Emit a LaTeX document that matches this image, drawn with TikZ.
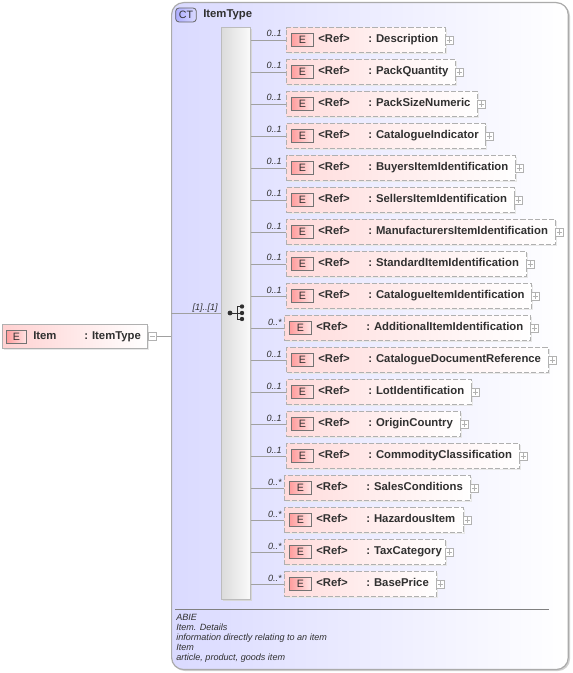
\documentclass[tikz,border=0pt]{standalone}
\usepackage{fontspec}
\setmainfont{Liberation Sans}
\definecolor{ctborder}{HTML}{ABABAB}
\definecolor{ctlav}{HTML}{DADAFF}
\definecolor{ink}{HTML}{303030}
\definecolor{linec}{HTML}{A0A0A0}
\definecolor{dashc}{HTML}{B0B0B0}
\tikzset{
  x=0.75pt,y=-0.75pt,
  ctbox/.style={draw=ctborder,line width=0.9pt,rounded corners=9pt,left color=ctlav,right color=white},
  seqbox/.style={draw=ctborder!80!white,line width=0.7pt,left color=black!14,right color=black!2},
  refbox/.style={draw=dashc,line width=0.8pt,dash pattern=on 3.8pt off 1.6pt,left color=red!14!white,right color=white,inner sep=0pt,anchor=north west},
  itembox/.style={draw=dashc,line width=0.7pt,left color=red!18!white,right color=white,inner sep=0pt,anchor=north west},
  eicon/.style={draw=black!55,line width=0.6pt,left color=red!38!white,right color=red!10!white,inner sep=0pt,font=\fontsize{8}{8}\selectfont,text=ink,minimum width=16pt,minimum height=9.75pt},
  lbl/.style={font=\bfseries\fontsize{8.5}{9}\selectfont,text=ink,inner sep=0pt,anchor=base west},
  card/.style={font=\itshape\fontsize{6.8}{8}\selectfont,text=ink,inner sep=0pt,anchor=base east},
  doc/.style={font=\itshape\fontsize{6.8}{8}\selectfont,text=ink,inner sep=0pt,anchor=base west},
  conn/.style={draw=linec,line width=0.6pt},
  pm/.style={draw=black!30,fill=white,line width=0.5pt,minimum width=6pt,minimum height=6pt,inner sep=0pt},
}
\begin{document}
\begin{tikzpicture}
\useasboundingbox (0,0) rectangle (572,673);
% complex type container
\fill[black!18,rounded corners=9pt] (173,4) rectangle (570,671);
\node[ctbox,inner sep=0pt,minimum width=297.5pt,minimum height=500.2pt,anchor=north west] (ct) at (171,2) {};
\node[draw=black!60,line width=0.6pt,rounded corners=2.5pt,left color=blue!32!white,right color=ctlav,inner sep=0pt,minimum width=15.5pt,minimum height=10.5pt,font=\fontsize{8}{8}\selectfont,text=ink] (cticon) at (186,15) {CT};
\node[lbl] (cttitle) at (203,17.5) {ItemType};
% sequence
\fill[black!16] (223,29) rectangle (252,601);
\node[seqbox,inner sep=0pt,minimum width=21.5pt,minimum height=429pt,anchor=north west] (seq) at (221,27) {};
\fill[ink] (230,313) circle[radius=2.4] (242,306.5) circle[radius=2.2] (242,313) circle[radius=2.2] (242,319) circle[radius=2.2];
\draw[ink,line width=0.7pt] (230,313) -- (237,313) (237,306.5) -- (237,319) (237,306.5) -- (242,306.5) (237,313) -- (242,313) (237,319) -- (242,319);
% rows
\foreach \n/\lft/\rgt/\cardi/\nm [count=\i from 0] in {
 a/286/445/0..1/Description,
 b/286/455/0..1/PackQuantity,
 c/286/477/0..1/PackSizeNumeric,
 d/286/485/0..1/CatalogueIndicator,
 e/286/515/0..1/BuyersItemIdentification,
 f/286/514/0..1/SellersItemIdentification,
 g/286/555/0..1/ManufacturersItemIdentification,
 h/286/526/0..1/StandardItemIdentification,
 i/286/531/0..1/CatalogueItemIdentification,
 j/284/530/0..*/AdditionalItemIdentification,
 k/286/548/0..1/CatalogueDocumentReference,
 l/286/471/0..1/LotIdentification,
 m/286/460/0..1/OriginCountry,
 n/286/519/0..1/CommodityClassification,
 o/284/470/0..*/SalesConditions,
 p/284/463/0..*/HazardousItem,
 q/284/445/0..*/TaxCategory,
 r/284/436/0..*/BasePrice}{
  \pgfmathsetmacro\ytop{27+32*\i}
  \pgfmathsetmacro\wpt{(\rgt-\lft)*0.75}
  \fill[black!9] (\lft+2,\ytop+2) rectangle (\rgt+2,\ytop+27);
  \node[refbox,minimum width=\wpt pt,minimum height=18.75pt] (ref\n) at (\lft,\ytop) {};
  \node[eicon] (eic\n) at (\lft+16.5,\ytop+13) {E};
  \node[lbl] (ra\n) at (\lft+32,\ytop+15.5) {<Ref>};
  \node[lbl] (rb\n) at (\lft+82,\ytop+15.5) {:\hspace{3pt}\nm};
  \node[card] (ca\n) at (282,\ytop+10) {\cardi};
  \node[pm] (pm\n) at (\rgt+4.5,\ytop+13) {};
  \draw[black!30,line width=0.5pt] ([xshift=-2.1pt]pm\n.center) -- ([xshift=2.1pt]pm\n.center) ([yshift=-2.1pt]pm\n.center) -- ([yshift=2.1pt]pm\n.center);
  \draw[conn] (seq.east |- pm\n) -- (ref\n.west |- pm\n);
}
% item element
\fill[black!9] (4,326) rectangle (149,350);
\node[itembox,minimum width=108.75pt,minimum height=18pt] (item) at (2,324) {};
\node[eicon,minimum width=15pt,minimum height=9.75pt] (eitem) at (16.5,336.5) {E};
\node[lbl] (itemname) at (33,339) {Item};
\node[lbl] (itemtype) at (84,339) {:\hspace{3pt}ItemType};
\node[pm] (pmitem) at (152.5,336.5) {};
\draw[black!30,line width=0.5pt] ([xshift=-2.1pt]pmitem.center) -- ([xshift=2.1pt]pmitem.center);
\draw[conn] (pmitem.east) -- (ct.west |- pmitem);
\draw[conn] (ct.west |- 0,313) -- (seq.west |- 0,313);
\node[card] (c11) at (218,310) {[1]..[1]};
% documentation
\draw[black!50,line width=0.6pt] (175,609) -- (549,609);
\node[doc] (d1) at (176,620) {ABIE};
\node[doc] (d2) at (176,630) {Item. Details};
\node[doc] (d3) at (176,640) {information directly relating to an item};
\node[doc] (d4) at (176,650) {Item};
\node[doc] (d5) at (176,660) {article, product, goods item};
\end{tikzpicture}
\end{document}
